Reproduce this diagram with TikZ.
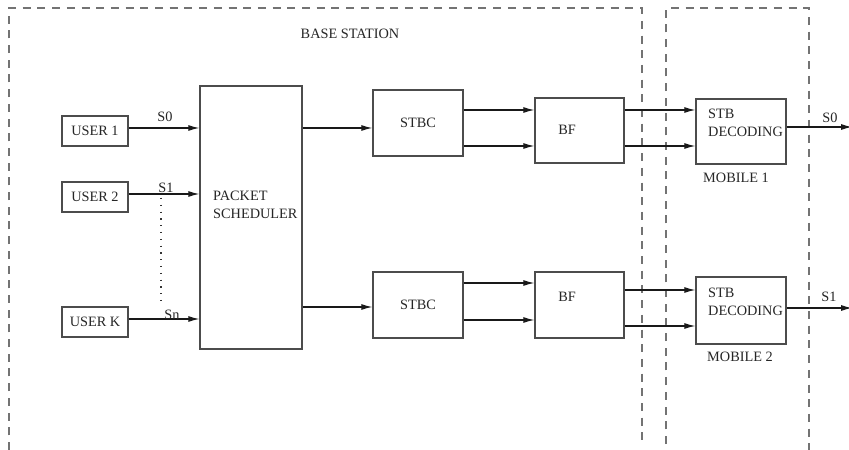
\documentclass[tikz,border=0pt]{standalone}
\usepackage{fontspec}
\setmainfont{Liberation Serif}
\usetikzlibrary{arrows.meta}
\begin{document}
\begin{tikzpicture}[x=1bp,y=-1bp,
  every node/.style={font=\fontsize{14.3bp}{18bp}\selectfont, text=black!85, inner sep=0pt},
  blk/.style={draw=black!70, line width=1.4bp, rectangle},
  conn/.style={draw=black!90, line width=1.1bp, -{Latex[length=11bp,width=6bp]}},
  region/.style={draw=black!55, line width=1.4bp, dash pattern=on 8bp off 6.7bp},
  dots/.style={draw=black!80, line width=1.3bp, dash pattern=on 1.3bp off 5.5bp}]
\useasboundingbox (0,0) rectangle (849,450);
\fill[white] (0,0) rectangle (849,450);

% regions
\draw[region] (9,450) -- (9,8) -- (642,8) -- (642,444);
\draw[region] (666,444) -- (666,8) -- (809,8) -- (809,450);
\node (bs) at (350,34) {BASE STATION};

% users
\node[blk, minimum width=66bp, minimum height=30bp] (u1) at (95,131) {USER 1};
\node[blk, minimum width=66bp, minimum height=30bp] (u2) at (95,197) {USER 2};
\node[blk, minimum width=66bp, minimum height=30bp] (uk) at (95,322) {USER K};

% packet scheduler
\node[blk, minimum width=102bp, minimum height=263bp] (ps) at (251,217.5) {};
\node[align=left, anchor=north west] (pst) at (213,191) {PACKET\\SCHEDULER};

% user arrows
\draw[conn] (u1.east |- 0,128) -- (ps.west |- 0,128);
\draw[conn] (u2.east |- 0,194) -- (ps.west |- 0,194);
\draw[conn] (uk.east |- 0,319) -- (ps.west |- 0,319);
\node (s0) at (165,117) {S0};
\node (s1) at (166,188) {S1};
\node (sn) at (172,315) {Sn};
\coordinate (d1) at (161,198);
\coordinate (d2) at (161,304);
\draw[dots] (d1) -- (d2);

% STBC
\node[blk, minimum width=90bp, minimum height=66bp] (stbc1) at (418,123) {STBC};
\node[blk, minimum width=90bp, minimum height=66bp] (stbc2) at (418,305) {STBC};
\draw[conn] (ps.east |- 0,128) -- (stbc1.west |- 0,128);
\draw[conn] (ps.east |- 0,307) -- (stbc2.west |- 0,307);

% BF
\node[blk, minimum width=89bp, minimum height=65bp] (bf1) at (579.5,130.5) {};
\node (bf1t) at (567,130) {BF};
\node[blk, minimum width=89bp, minimum height=66bp] (bf2) at (579.5,305) {};
\node (bf2t) at (567,297) {BF};
\draw[conn] (stbc1.east |- 0,110) -- (bf1.west |- 0,110);
\draw[conn] (stbc1.east |- 0,146) -- (bf1.west |- 0,146);
\draw[conn] (stbc2.east |- 0,283) -- (bf2.west |- 0,283);
\draw[conn] (stbc2.east |- 0,320) -- (bf2.west |- 0,320);

% STB decoding
\node[blk, minimum width=90bp, minimum height=65bp] (stb1) at (741,131.5) {};
\node[align=left, anchor=north west] (stb1t) at (708,109) {STB\\DECODING};
\node (m1) at (736,178) {MOBILE 1};
\node[blk, minimum width=90bp, minimum height=67bp] (stb2) at (741,310.5) {};
\node[align=left, anchor=north west] (stb2t) at (708,288) {STB\\DECODING};
\node (m2) at (740,357) {MOBILE 2};
\draw[conn] (bf1.east |- 0,110) -- (stb1.west |- 0,110);
\draw[conn] (bf1.east |- 0,146) -- (stb1.west |- 0,146);
\draw[conn] (bf2.east |- 0,290) -- (stb2.west |- 0,290);
\draw[conn] (bf2.east |- 0,326) -- (stb2.west |- 0,326);

% outputs
\coordinate (o1) at (852,127);
\coordinate (o2) at (852,308);
\draw[conn] (stb1.east |- o1) -- (o1);
\draw[conn] (stb2.east |- o2) -- (o2);
\node (os0) at (830,118) {S0};
\node (os1) at (829,297) {S1};
\end{tikzpicture}
\end{document}
